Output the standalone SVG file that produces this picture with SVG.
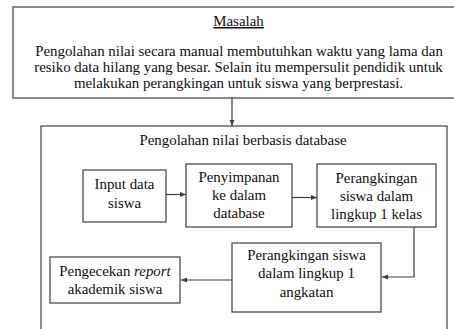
<svg xmlns="http://www.w3.org/2000/svg" width="454" height="329" viewBox="0 0 454 329">
<style>
.box{fill:#fff;stroke:#404040;stroke-width:1.2}
.t{font-family:"Liberation Serif","Times New Roman",serif;font-size:14.9px;fill:#111;text-anchor:middle}
.c{fill:none;stroke:#404040;stroke-width:1.2}
</style>
<defs>
<marker id="ah" viewBox="0 0 10 10" refX="10" refY="5" markerWidth="6" markerHeight="6" orient="auto" markerUnits="userSpaceOnUse">
<path d="M0,1 L10,5 L0,9 Z" fill="#404040"/>
</marker>
</defs>
<rect width="454" height="329" fill="#fff"/>
<g id="outer">
<rect class="box" x="41" y="126" width="406" height="215"/>
<text class="t" x="243" y="145">Pengolahan nilai berbasis database</text>
</g>
<g id="masalah">
<rect class="box" x="13" y="7" width="451" height="91"/>
<text class="t" x="238.5" y="26" text-decoration="underline">Masalah</text>
<text class="t" x="239" y="56">Pengolahan nilai secara manual membutuhkan waktu yang lama dan</text>
<text class="t" x="238.5" y="72">resiko data hilang yang besar. Selain itu mempersulit pendidik untuk</text>
<text class="t" x="238.5" y="88">melakukan perangkingan untuk siswa yang berprestasi.</text>
</g>
<g id="input">
<rect class="box" x="83" y="170" width="83" height="52"/>
<text class="t" x="124.5" y="189">Input data</text>
<text class="t" x="124.5" y="207.5">siswa</text>
</g>
<g id="simpan">
<rect class="box" x="186" y="164" width="106" height="63"/>
<text class="t" x="239" y="182">Penyimpanan</text>
<text class="t" x="239" y="200">ke dalam</text>
<text class="t" x="239" y="218">database</text>
</g>
<g id="rank-kelas">
<rect class="box" x="317" y="164" width="119" height="63"/>
<text class="t" x="376.5" y="183">Perangkingan</text>
<text class="t" x="376.5" y="201">siswa dalam</text>
<text class="t" x="376.5" y="219">lingkup 1 kelas</text>
</g>
<g id="rank-angkatan">
<rect class="box" x="232" y="243" width="149" height="69"/>
<text class="t" x="306.5" y="260">Perangkingan siswa</text>
<text class="t" x="306.5" y="278">dalam lingkup 1</text>
<text class="t" x="306.5" y="297">angkatan</text>
</g>
<g id="report">
<rect class="box" x="50" y="257" width="130" height="46"/>
<text class="t" x="115" y="276">Pengecekan <tspan font-style="italic">report</tspan></text>
<text class="t" x="115" y="294">akademik siswa</text>
</g>
<g id="connectors">
<path class="c" d="M232,98 V126" marker-end="url(#ah)"/>
<path class="c" d="M166,194.5 H186" marker-end="url(#ah)"/>
<path class="c" d="M292,197.5 H317" marker-end="url(#ah)"/>
<path class="c" d="M414,227 V277 H382" marker-end="url(#ah)"/>
<path class="c" d="M232,280 H181" marker-end="url(#ah)"/>
</g>
</svg>
